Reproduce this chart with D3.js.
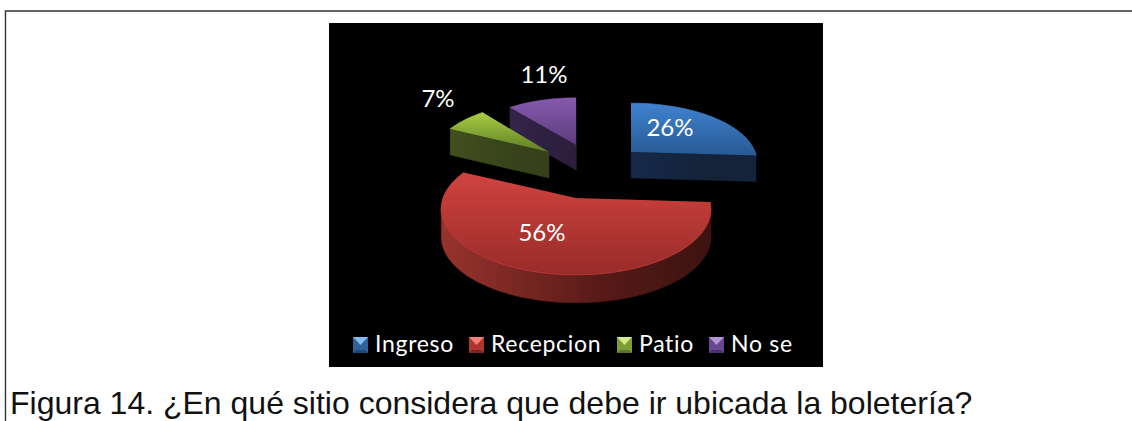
<!DOCTYPE html>
<html>
<head>
<meta charset="utf-8">
<script src="https://cdn.jsdelivr.net/npm/d3@7"></script>
<style>
html, body { margin: 0; padding: 0; background: #fff; overflow: hidden; }
svg { display: block; }
</style>
</head>
<body>
<svg width="1132" height="421"></svg>
<script>
// data
var categories = ["Ingreso", "Recepcion", "Patio", "No se"];
var values = [26, 56, 7, 11];
var valueLabels = ["26%", "56%", "7%", "11%"];
var caption = "Figura 14. ¿En qué sitio considera que debe ir ubicada la boletería?";

// layout, one entry per slice
var frames = [
	{cx: 631, cy: 152, rx: 124, ry: 57, depth: 26},
	{cx: 576, cy: 198, rx: 133, ry: 64, depth: 28},
	{cx: 549, cy: 152, rx: 117, ry: 58, depth: 26},
	{cx: 576, cy: 145, rx: 117, ry: 55, depth: 25}
];
var labelPos = [[670, 127], [542, 232], [438, 98], [544, 74]];
var legendX = [353, 469, 617, 709];
var persp = 0.167;

var topColors = [["#4082cf", "#275a94"], ["#d0433f", "#982b29"], ["#a9cd45", "#5d7e24"], ["#8659ae", "#5c3d7c"]];
var wallColors = [
	["#16294a", "#142338", "#14233c"],
	["#98332d", "#571a17", "#3c1310"],
	["#434f1f", "#37431a", "#36401a"],
	["#35244a", "#2e2040", "#2c1d3c"]
];
var bevelColors = [["#7fbdf2", "#2f6299", "#1f4a78"], ["#f0807a", "#b03430", "#7c2422"], ["#d5ea88", "#7d9c33", "#5a7324"], ["#b596d6", "#6a4792", "#4a3068"]];

var svg = d3.select("svg");
var defs = svg.append("defs");

// frame lines of the page and black plot area
svg.append("path").attr("d", "M5.5,421V11H1132").attr("fill", "none").attr("stroke", "#333").attr("stroke-width", 1.4);
svg.append("rect").attr("x", 329).attr("y", 23).attr("width", 494).attr("height", 344).attr("fill", "#000");

topColors.forEach(function(c, i) {
	var g = defs.append("linearGradient").attr("id", "top" + i).attr("x1", 0).attr("y1", 0).attr("x2", 0).attr("y2", 1);
	g.append("stop").attr("offset", 0).attr("stop-color", c[0]);
	g.append("stop").attr("offset", 1).attr("stop-color", c[1]);
	var w = defs.append("linearGradient").attr("id", "wall" + i);
	w.append("stop").attr("offset", 0).attr("stop-color", wallColors[i][0]);
	w.append("stop").attr("offset", 0.6).attr("stop-color", wallColors[i][1]);
	w.append("stop").attr("offset", 1).attr("stop-color", wallColors[i][2]);
});

var pie = d3.pie().sort(null);
var arcs = pie(values);

function project(f, a, r) {
	var u = r * Math.sin(a), v = r * Math.cos(a);
	var s = 1 / (1 + persp * v);
	return [f.cx + f.rx * u * s, f.cy - f.ry * v * s];
}

var line = d3.line();

// back slices first
[3, 0, 2, 1].forEach(function(i) {
	var d = arcs[i], f = frames[i];
	var n = Math.ceil((d.endAngle - d.startAngle) * 40);
	var rim = d3.range(n + 1).map(function(k) {
		return project(f, d.startAngle + (d.endAngle - d.startAngle) * k / n, 1);
	});
	var apex = [f.cx, f.cy];
	var outline = [apex].concat(rim, [apex]);
	var g = svg.append("g");

	// walls: edges that run leftwards in the outline face the viewer
	var run = [];
	function flush() {
		if (run.length < 2) { run = []; return; }
		var lower = run.map(function(p) { return [p[0], p[1] + f.depth]; }).reverse();
		g.append("path")
			.attr("d", line(run.concat(lower)) + "Z")
			.attr("fill", "url(#wall" + i + ")")
			.attr("stroke", wallColors[i][1])
			.attr("stroke-width", 0.5);
		run = [];
	}
	for (var k = 0; k < outline.length - 1; k++) {
		var p = outline[k], q = outline[k + 1];
		if (q[0] < p[0]) {
			if (run.length == 0) run.push(p);
			run.push(q);
		} else flush();
	}
	flush();

	g.append("path")
		.attr("d", line(outline) + "Z")
		.attr("fill", "url(#top" + i + ")");
	// light rim on the front edge
	g.append("path")
		.attr("d", line(rim))
		.attr("fill", "none")
		.attr("stroke", topColors[i][0])
		.attr("stroke-opacity", 0.7)
		.attr("stroke-width", 1);
});

svg.selectAll(".val")
	.data(valueLabels)
	.enter()
	.append("text")
	.attr("class", "val")
	.attr("x", function(d, i) { return labelPos[i][0]; })
	.attr("y", function(d, i) { return labelPos[i][1]; })
	.attr("dy", "0.36em")
	.attr("text-anchor", "middle")
	.attr("fill", "#fff")
	.attr("font-family", "Lato")
	.attr("font-size", 24)
	.text(function(d) { return d; });

// legend
var legend = svg.selectAll(".leg")
	.data(categories)
	.enter()
	.append("g")
	.attr("class", "leg")
	.attr("transform", function(d, i) { return "translate(" + legendX[i] + ",337)"; });
legend.append("rect").attr("width", 15).attr("height", 16).attr("fill", function(d, i) { return bevelColors[i][1]; });
legend.append("path").attr("d", "M0,0H15L7.5,8Z").attr("fill", function(d, i) { return bevelColors[i][0]; });
legend.append("path").attr("d", "M0,16H15L12,13H3Z").attr("fill", function(d, i) { return bevelColors[i][2]; });
legend.append("text")
	.attr("x", 22)
	.attr("y", 15)
	.attr("fill", "#fff")
	.attr("font-family", "Lato")
	.attr("font-size", 23)
	.attr("letter-spacing", 0.7)
	.text(function(d) { return d; });

svg.append("text")
	.attr("x", 10)
	.attr("y", 414)
	.attr("fill", "#111")
	.attr("font-family", "Liberation Sans")
	.attr("font-size", 32)
	.text(caption);
</script>
</body>
</html>
